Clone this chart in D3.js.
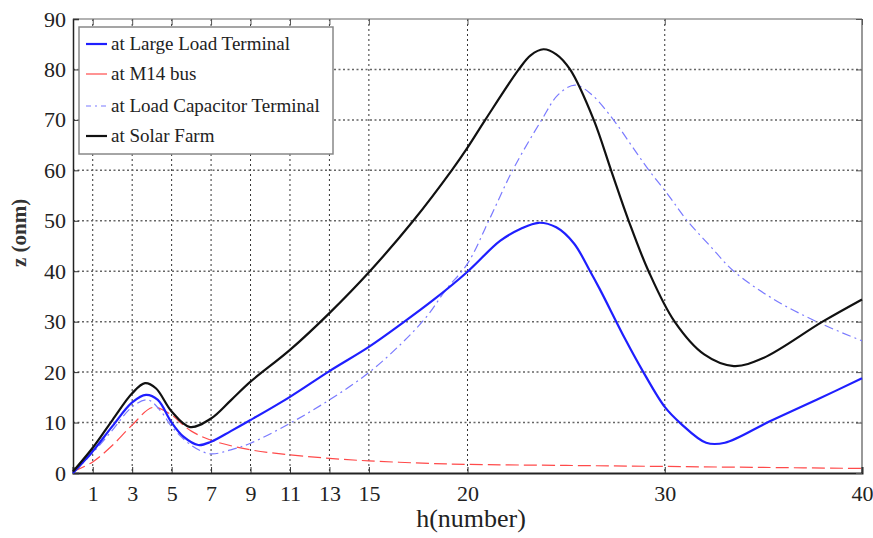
<!DOCTYPE html>
<html><head><meta charset="utf-8">
<script src="https://cdn.jsdelivr.net/npm/d3@7"></script>
<style>
html,body{margin:0;padding:0;background:#fff;}
</style></head>
<body><svg id="chart" width="873" height="538"></svg>
<script>
const xTicks = [1,3,5,7,9,11,13,15,20,30,40];
const yTicks = [0,10,20,30,40,50,60,70,80,90];
const seriesNames = ["at Large Load Terminal","at M14 bus","at Load Capacitor Terminal","at Solar Farm"];

const largeLoadH = [0,1,2,3,3.7,4.3,5,5.6,6.35,7,8,9,11,13,15,16.66,18.27,20,21.65,22.7,23.6,24.5,25.4,26.2,26.7,28,28.9,30,30.8,32.1,33.05,35.3,37.7,40];
const largeLoadZ = [0,4.3,9.3,14,15.5,14.5,10,7.2,5.55,6.2,8.3,10.5,15.1,20.2,25,29.6,34.3,39.9,46,48.4,49.6,48.7,45.5,40.1,36.5,26.5,20.1,13.1,9.85,6.0,6.0,10.2,14.5,18.8];

const m14H = [0,1,2,3,4.05,5,5.5,6,7,9,11,13,15,18.1,20,25,30,35,40];
const m14Z = [0.3,2.2,5.5,9.5,13,11.5,9.8,8.3,6.5,4.6,3.6,2.9,2.4,1.9,1.7,1.5,1.3,1.1,0.9];

const capH = [0,1,2,3,3.8,4.5,5,6,6.95,8,9,11,13,15,16.66,17.93,18.9,20,21.1,22.3,23.76,24.6,25.45,26.3,27.4,28.3,29.2,30.2,31.1,32.3,33.5,35.5,37.7,40];
const capZ = [0,4,8.5,13.1,14.5,12,9.2,5.5,3.8,4.6,5.9,9.85,14.5,19.9,25.7,31,36.3,41.5,50.2,60.1,70,75,76.9,75,70,65,60,55,50.2,45,40,34.5,30,26.2];

const solarH = [0,1,2,3,3.65,4.2,5,5.93,7,8,9,11,13,15.05,17.25,19.2,20,20.9,22.6,23.2,23.85,24.5,25.2,26.4,27.28,28.17,29.18,30.5,32,33.5,35,38,40];
const solarZ = [0.3,5,10.5,15.8,17.8,16.8,12.2,9.1,10.8,14.4,18.1,24.4,31.7,40,50,60,64.5,70,80,82.8,84,83,80,70,60,50,40,30,23.5,21.2,22.8,30,34.4];

const colors = ["#1f1fff","#ff4a4a","#7a7aff","#111111"];
const widths = [2.2,1.2,1.2,2.2];
const dashes = [null,"13,5","9,4,2,4",null];
const FONT = "'Liberation Serif'";

const svg = d3.select("#chart");
const m = {l:73, r:862, t:19, b:473};
const x = d3.scaleLinear().domain([0,40]).range([m.l,m.r]);
const y = d3.scaleLinear().domain([0,90]).range([m.b,m.t]);

const grid = svg.append("g");
grid.selectAll("line.gx").data(xTicks).enter().append("line")
  .attr("x1",d=>x(d)).attr("x2",d=>x(d)).attr("y1",m.t).attr("y2",m.b)
  .attr("stroke","#333").attr("stroke-width",1).attr("stroke-dasharray","2,3");
grid.selectAll("line.gy").data(yTicks.slice(1,-1)).enter().append("line")
  .attr("x1",m.l).attr("x2",m.r).attr("y1",d=>y(d)).attr("y2",d=>y(d))
  .attr("stroke","#666").attr("stroke-width",1.5).attr("stroke-dasharray","2,2.5");

svg.append("line").attr("x1",m.l).attr("x2",m.r).attr("y1",m.t).attr("y2",m.t).attr("stroke","#999").attr("stroke-width",1.5);
svg.append("line").attr("x1",m.r).attr("x2",m.r).attr("y1",m.t).attr("y2",m.b).attr("stroke","#999").attr("stroke-width",2);

const xAxis = d3.axisBottom(x).tickValues(xTicks).tickSize(-6).tickPadding(12).tickFormat(d3.format("d"));
const gx = svg.append("g").attr("transform",`translate(0,${m.b})`).call(xAxis);
gx.select(".domain").attr("stroke","#222").attr("stroke-width",2);
gx.selectAll(".tick line").attr("stroke","#333");
gx.selectAll(".tick text").style("font-family",FONT).style("font-size","22px").attr("fill","#222");

const xTop = d3.axisTop(x).tickValues(xTicks).tickSize(-6).tickFormat("");
const gxt = svg.append("g").attr("transform",`translate(0,${m.t})`).call(xTop);
gxt.select(".domain").remove();
gxt.selectAll(".tick line").attr("stroke","#555");

const yAxis = d3.axisLeft(y).tickValues(yTicks).tickSize(-6).tickPadding(7).tickFormat(d3.format("d"));
const gy = svg.append("g").attr("transform",`translate(${m.l},0)`).call(yAxis);
gy.select(".domain").attr("stroke","#222").attr("stroke-width",1.5);
gy.selectAll(".tick line").attr("stroke","#333");
gy.selectAll(".tick text").style("font-family",FONT).style("font-size","22px").attr("fill","#222");

const yRight = d3.axisRight(y).tickValues(yTicks).tickSize(-6).tickFormat("");
const gyr = svg.append("g").attr("transform",`translate(${m.r},0)`).call(yRight);
gyr.select(".domain").remove();
gyr.selectAll(".tick line").attr("stroke","#555");

const allSeries = [
  {h:largeLoadH, z:largeLoadZ},
  {h:m14H, z:m14Z},
  {h:capH, z:capZ},
  {h:solarH, z:solarZ}
];
const line = d3.line().x(d=>x(d[0])).y(d=>y(d[1])).curve(d3.curveCatmullRom.alpha(0.5));
[1,2,0,3].forEach(i=>{
  const s = allSeries[i];
  const pts = s.h.map((h,k)=>[h,s.z[k]]);
  svg.append("path").attr("d",line(pts)).attr("fill","none")
    .attr("stroke",colors[i]).attr("stroke-width",widths[i])
    .attr("stroke-dasharray",dashes[i]).attr("stroke-linejoin","round");
});

svg.append("text").attr("x",471).attr("y",527).attr("text-anchor","middle")
  .style("font-family",FONT).style("font-size","26px").attr("fill","#222").text("h(number)");
svg.append("text").attr("transform","translate(26,233) rotate(-90)").attr("text-anchor","middle")
  .style("font-family",FONT).style("font-size","21px").style("font-weight","bold").attr("fill","#333").text("z (onm)");

const lg = svg.append("g");
lg.append("rect").attr("x",79).attr("y",27).attr("width",254).attr("height",127)
  .attr("fill","#fff").attr("stroke","#888").attr("stroke-width",1.5);
const ly = [44,74,106,136];
seriesNames.forEach((n,i)=>{
  lg.append("line").attr("x1",86).attr("x2",107).attr("y1",ly[i]).attr("y2",ly[i])
    .attr("stroke",colors[i]).attr("stroke-width",widths[i])
    .attr("stroke-dasharray",i===2?"5,4,2,4":null);
  lg.append("text").attr("x",111).attr("y",ly[i]+6)
    .style("font-family",FONT).style("font-size","19px").attr("fill","#222").text(n);
});
</script></body></html>
